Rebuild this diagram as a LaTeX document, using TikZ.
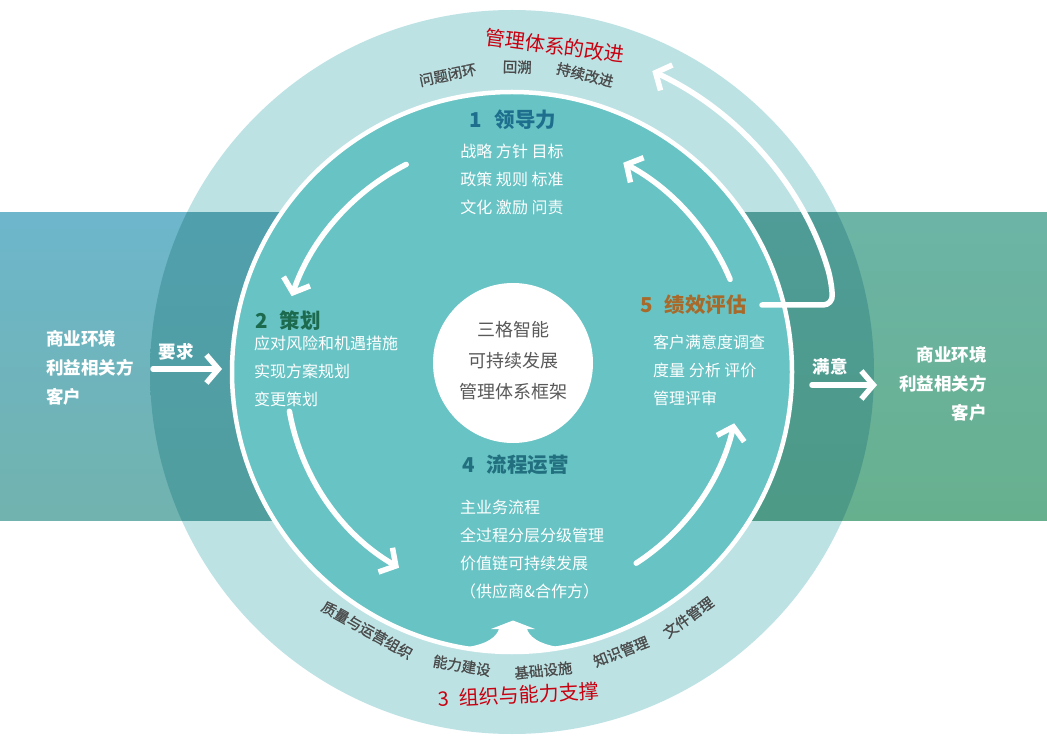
\documentclass[tikz,border=0pt]{standalone}
\usepackage{fontspec}
\setmainfont{Noto Sans CJK SC}
\newfontfamily\ringfont[FakeBold=1]{Noto Sans CJK SC}
\usetikzlibrary{arrows.meta,calc}

\definecolor{ringlight}{HTML}{BDE2E4}
\definecolor{coreteal}{HTML}{68C3C4}
\definecolor{bandlefttop}{HTML}{6DB6CC}
\definecolor{bandleftbot}{HTML}{71B3AE}
\definecolor{bandrighttop}{HTML}{6CB4A6}
\definecolor{bandrightbot}{HTML}{67B08E}
\definecolor{darklefttop}{HTML}{509FAD}
\definecolor{darkleftbot}{HTML}{519E9E}
\definecolor{darkrighttop}{HTML}{4F9C98}
\definecolor{darkrightbot}{HTML}{4D9A86}
\definecolor{ringred}{HTML}{C8000F}
\definecolor{labelgray}{HTML}{4A4A4A}
\definecolor{coregray}{HTML}{595959}
\definecolor{leadblue}{HTML}{1E6E8E}
\definecolor{plangreen}{HTML}{1D6B4F}
\definecolor{opsteal}{HTML}{22707F}
\definecolor{evalbrown}{HTML}{A86A2A}

\tikzset{
  flowarrow/.style={draw=white, line width=5.5pt, line cap=round, line join=round,
    -{Straight Barb[length=12pt,width=28pt]}},
  ringlabel/.style={text=labelgray, font=\ringfont\fontsize{14.5}{16}\selectfont, inner sep=0pt},
  ringtitle/.style={text=ringred, font=\fontsize{20}{22}\selectfont, inner sep=0pt},
  stagetitle/.style={font=\bfseries\fontsize{20.5}{22}\selectfont, inner sep=0pt},
  stageline/.style={text=white, font=\fontsize{16}{18}\selectfont, inner sep=0pt},
  coreline/.style={text=coregray, font=\fontsize{18}{20}\selectfont, inner sep=0pt},
  sidetext/.style={text=white, font=\bfseries\fontsize{17.5}{20}\selectfont, inner sep=0pt},
}

\begin{document}
\begin{tikzpicture}[x=1pt, y=1pt]
    \useasboundingbox (0,0) rectangle (1047,740);
    \fill[white] (0,0) rectangle (1047,740);
    \coordinate (O) at (512,368);

    % Outer ring and the band
    \fill[ringlight] (O) circle (362);
    \shade[top color=bandlefttop, bottom color=bandleftbot] (0,220) rectangle (512,527);
    \shade[top color=bandrighttop, bottom color=bandrightbot] (512,220) rectangle (1047,527);
    \begin{scope}
        \clip (O) circle (362);
        \shade[top color=darklefttop, bottom color=darkleftbot] (0,220) rectangle (512,527);
        \shade[top color=darkrighttop, bottom color=darkrightbot] (512,220) rectangle (1047,527);
    \end{scope}

    % Inner circle with the support arrow at its foot
    \fill[coreteal] (O) circle (280);
    \begin{scope}
        \clip (O) circle (280);
        \fill[white] (460,92) .. controls (490,95) and (497,105) .. (499,111) -- (491,111)
            -- (513,119.5) -- (535,111) -- (527,111) .. controls (529,105) and (536,95) .. (566,92)
            -- (566,60) -- (460,60) -- cycle;
    \end{scope}
    \draw[white, line width=4.5pt] (O) circle (280);

    % Centre
    \node[circle, fill=white, minimum size=160pt, inner sep=0pt] (core) at (513,377) {};
    \foreach \txt [count=\i] in {三格智能, 可持续发展, 管理体系框架}
        \node[coreline] (core-\i) at (513, 441-31*\i) {\txt};

    % 1 Leadership
    \node[stagetitle, text=leadblue] (lead) at (513,620) {1\hspace{0.6em}领导力};
    \foreach \txt [count=\i] in {战略 方针 目标, 政策 规则 标准, 文化 激励 问责}
        \node[stageline] (lead-\i) at (512, 617-28*\i) {\txt};

    % 2 Planning
    \node[stagetitle, text=plangreen, anchor=west] (plan) at (255,419) {2\hspace{0.6em}策划};
    \foreach \txt [count=\i] in {应对风险和机遇措施, 实现方案规划, 变更策划}
        \node[stageline, anchor=west] (plan-\i) at (254, 425-28*\i) {\txt};

    % 4 Operation
    \node[stagetitle, text=opsteal, anchor=west] (ops) at (462,275) {4\hspace{0.6em}流程运营};
    \foreach \txt [count=\i] in {主业务流程, 全过程分层分级管理, 价值链可持续发展, （供应商\&合作方）}
        \node[stageline, anchor=west] (ops-\i) at (460, 261-28*\i) {\txt};

    % 5 Evaluation
    \node[stagetitle, text=evalbrown, anchor=west] (eval) at (640,435) {5\hspace{0.6em}绩效评估};
    \foreach \txt [count=\i] in {客户满意度调查, 度量 分析 评价, 管理评审}
        \node[stageline, anchor=west] (eval-\i) at (653, 426-28*\i) {\txt};

    % Cycle arrows
    \draw[flowarrow] ($(O)+(117:233)$) arc[start angle=117, end angle=161, radius=233];
    \draw[flowarrow] ($(O)+(190:226)$) arc[start angle=190, end angle=240, radius=226];
    \draw[flowarrow] ($(O)+(-57:228)$) arc[start angle=-57, end angle=-13, radius=228];
    \draw[flowarrow] ($(O)+(23:237)$) arc[start angle=23, end angle=62, radius=237];

    % Improvement loop
    \coordinate (loopstart) at (762,435);
    \draw[flowarrow, rounded corners=10pt] (loopstart) -- (833,435) -- ($(O)+(16:332)$)
        arc[start angle=16, end angle=65, radius=332];

    % Ring labels, top
    \node[ringtitle, rotate=-7.5] (improve) at ($(O)+(82.5:329)$) {管理体系的改进};
    \foreach \ang/\rad/\txt [count=\i] in {102.2/304/问题闭环, 89/305/回溯, 76.2/306/持续改进}
        \node[ringlabel, rotate=\ang-90] (top-\i) at ($(O)+(\ang:\rad)$) {\txt};

    % Ring labels, bottom
    \foreach \ang/\rad/\txt [count=\i] in {-119.3/296/质量与运营组织, -99.7/298/能力建设,
        -84/300/基础设施, -68.7/300/知识管理, -54.3/302/文件管理}
        \node[ringlabel, rotate=\ang+90] (bottom-\i) at ($(O)+(\ang:\rad)$) {\txt};
    \node[ringtitle, rotate=3] (support) at ($(O)+(-88.9:323)$) {3\hspace{0.5em}组织与能力支撑};

    % Sides
    \foreach \txt [count=\i] in {商业环境, 利益相关方, 客户}
        \node[sidetext, anchor=west] (inleft-\i) at (46, 430-29*\i) {\txt};
    \foreach \txt [count=\i] in {商业环境, 利益相关方, 客户}
        \node[sidetext, anchor=east] (outright-\i) at (987, 414-29*\i) {\txt};

    \coordinate (reqs) at (153,371);
    \coordinate (reqe) at (222,371);
    \draw[flowarrow] (reqs) -- (reqe);
    \node[sidetext] (req) at (176,388) {要求};

    \coordinate (sats) at (812,355);
    \coordinate (sate) at (877,355);
    \draw[flowarrow] (sats) -- (sate);
    \node[sidetext] (sat) at (830,373) {满意};
\end{tikzpicture}
\end{document}
